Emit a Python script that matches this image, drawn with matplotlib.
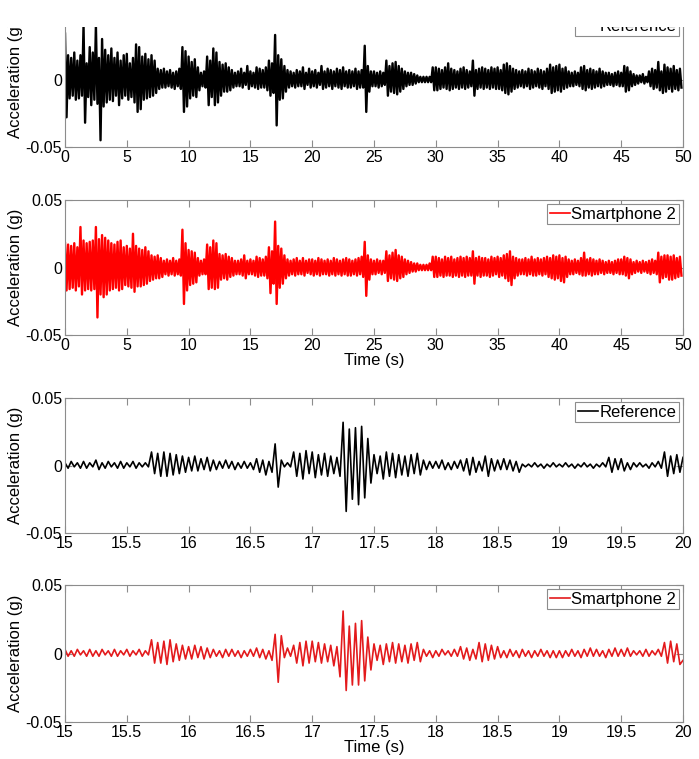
import numpy as np
import matplotlib.pyplot as plt
from matplotlib.patches import Rectangle

plt.rcParams['font.family'] = ['Liberation Sans', 'DejaVu Sans']
plt.rcParams['font.size'] = 12

# ------------------------------------------------------------
# Values, in milli-g.
# Full records (0-50 s): peak-up / peak-down per 0.25 s window.
# Zoomed records (15-20 s): successive extrema every 0.025 s.
# ------------------------------------------------------------

ref_up = [
    34, 18, 16, 20,  14, 18, 40, 12,  24, 20, 40, 16,  30, 22, 18, 23,
    16, 20, 14, 18,  19, 12, 16, 26,  24, 17, 19, 15,  18, 14, 8, 7,
    8, 6, 7, 5,      6, 8, 24, 21,    17, 13, 15, 9,   5, 6, 17, 14,
    23, 20, 13, 11,  12, 9, 7, 5,     6, 8, 5, 10,     6, 5, 9, 8,
    7, 9, 14, 12,    33, 18, 15, 10,  7, 6, 5, 7,      6, 9, 5, 8,
    6, 7, 5, 10,     6, 8, 7, 6,      8, 7, 9, 6,      7, 6, 8, 6,
    7, 25, 10, 6,    6, 5, 6, 5,      14, 10, 12, 13,  10, 8, 6, 5,
    5, 4, 3, 2,      2, 2, 2, 9,      9, 8, 7, 9,      12, 8, 7, 6,
    8, 9, 7, 6,      14, 7, 8, 9,     8, 7, 9, 8,      9, 7, 11, 12,
    10, 8, 7, 6,     7, 6, 8, 7,      6, 8, 7, 6,      8, 11, 9, 10,
    11, 8, 9, 6,     5, 6, 5, 9,      10, 7, 8, 7,     6, 8, 6, 5,
    5, 4, 5, 6,      5, 10, 9, 6,     4, 3, 3, 4,      2, 6, 8, 7,
    13, 6, 11, 9,    8, 10, 7, 8,
]
ref_down = [
    -28, -14, -12, -15,  -14, -12, -32, -13,  -19, -15, -18, -45,  -20, -17, -15, -16,
    -12, -19, -14, -12,  -15, -13, -17, -24,  -22, -15, -14, -13,  -12, -10, -7, -6,
    -6, -5, -6, -7,      -5, -7, -24, -20,    -14, -12, -13, -8,   -5, -6, -19, -13,
    -19, -17, -12, -9,   -9, -8, -6, -5,      -5, -6, -4, -7,      -5, -6, -7, -6,
    -6, -8, -12, -10,    -34, -15, -14, -9,   -6, -5, -6, -5,      -5, -7, -4, -6,
    -5, -6, -4, -7,      -6, -5, -7, -5,      -6, -7, -5, -6,      -6, -5, -7, -6,
    -6, -24, -9, -5,     -5, -6, -5, -4,      -12, -9, -10, -11,   -9, -7, -5, -4,
    -4, -3, -2, -2,      -2, -2, -2, -8,      -8, -7, -6, -7,      -8, -7, -6, -7,
    -6, -7, -6, -5,      -12, -7, -6, -7,     -6, -7, -6, -7,      -7, -8, -10, -11,
    -9, -7, -6, -5,      -6, -5, -7, -6,      -5, -6, -7, -5,      -7, -10, -9, -8,
    -9, -7, -6, -5,      -5, -4, -5, -7,      -8, -6, -7, -6,      -5, -6, -5, -4,
    -4, -5, -4, -5,      -5, -9, -8, -5,      -4, -3, -2, -3,      -2, -5, -7, -6,
    -8, -10, -9, -7,     -9, -7, -8, -6,
]

sp2_up = [
    18, 17, 16, 18,  15, 30, 20, 18,  19, 20, 30, 21,  24, 22, 20, 18,
    17, 19, 20, 15,  16, 14, 25, 16,  14, 13, 15, 12,  9, 8, 9, 7,
    5, 6, 5, 7,      5, 6, 28, 18,    13, 12, 11, 7,   5, 6, 17, 15,
    20, 18, 10, 9,   10, 8, 7, 5,     5, 6, 9, 5,      6, 5, 8, 7,
    6, 8, 15, 12,    34, 16, 14, 9,   6, 5, 6, 7,      5, 7, 5, 6,
    6, 5, 7, 6,      5, 6, 5, 7,      6, 5, 6, 7,      6, 5, 6, 7,
    8, 19, 9, 6,     5, 6, 5, 5,      12, 9, 11, 13,   9, 8, 6, 5,
    4, 3, 3, 2,      2, 2, 3, 8,      8, 7, 6, 8,      7, 8, 6, 7,
    8, 7, 8, 7,      12, 7, 8, 7,     7, 6, 8, 7,      8, 7, 9, 10,
    12, 8, 7, 6,     6, 7, 6, 8,      6, 7, 6, 7,      8, 7, 9, 8,
    9, 7, 8, 6,      5, 6, 5, 7,      11, 6, 7, 6,     5, 6, 5, 4,
    5, 4, 5, 6,      6, 8, 7, 6,      4, 5, 4, 5,      4, 5, 6, 5,
    11, 8, 9, 9,     8, 9, 7, 8,
]
sp2_down = [
    -17, -16, -15, -17,  -14, -20, -17, -16,  -17, -16, -37, -20,  -22, -20, -17, -16,
    -15, -17, -16, -13,  -14, -15, -18, -14,  -14, -13, -12, -10,  -9, -8, -8, -7,
    -5, -6, -5, -6,      -5, -6, -27, -17,    -13, -12, -11, -6,   -5, -5, -16, -15,
    -16, -15, -9, -8,    -9, -7, -6, -5,      -5, -6, -8, -5,      -5, -6, -7, -6,
    -6, -8, -19, -12,    -27, -15, -12, -8,   -6, -5, -6, -5,      -5, -6, -4, -5,
    -6, -5, -6, -5,      -5, -6, -5, -6,      -5, -6, -5, -6,      -6, -5, -6, -5,
    -7, -21, -9, -5,     -5, -4, -5, -4,      -10, -8, -9, -10,    -8, -7, -5, -4,
    -3, -3, -2, -2,      -2, -2, -2, -7,      -7, -6, -7, -6,      -6, -7, -6, -7,
    -6, -7, -6, -6,      -12, -6, -7, -6,     -6, -7, -6, -5,      -7, -6, -8, -10,
    -13, -8, -6, -5,     -5, -6, -5, -6,      -6, -5, -6, -5,      -7, -8, -9, -8,
    -10, -11, -7, -5,    -5, -4, -5, -6,      -6, -5, -6, -5,      -5, -4, -5, -4,
    -4, -5, -4, -5,      -5, -6, -8, -5,      -4, -3, -4, -3,      -4, -5, -4, -5,
    -11, -8, -7, -9,     -9, -8, -7, -6,
]

ref_zoom = [
    2, -2, 3, -1, 2, -2, 3, -2, 2, -1,
    4, -3, 2, -2, 3, -1, 2, -2, 3, -2,
    2, -1, 3, -2, 2, -1, 2, -1, 10, -6,
    9, -8, 10, -8, 9, -7, 8, -6, 7, -5,
    6, -4, 7, -4, 5, -3, 6, -4, 4, -3,
    3, -2, 4, -2, 3, -3, 2, -2, 3, -2,
    2, -3, 5, -5, 4, -7, 3, -5, 16, -16,
    4, -1, 2, -1, 10, -8, 9, -10, 11, -6,
    10, -9, 8, -7, 9, -8, 7, -6, 6, -8,
    32, -34, 27, -25, 28, -29, 29, -24, 20, -13,
    8, -6, 7, -10, 10, -8, 9, -9, 8, -7,
    7, -8, 8, -6, 9, -7, 4, -3, 3, -2,
    3, -2, 4, -3, 2, -3, 3, -2, 4, -4,
    5, -7, 6, -5, 3, -4, 7, -8, 5, -4,
    4, -3, 5, -3, 4, -4, 3, -5, 1, -1,
    1, -1, 2, -1, 1, -2, 1, -1, 2, -1,
    1, -1, 2, -1, 1, -2, 1, -1, 2, -1,
    1, -2, 1, -1, 2, -1, 6, -5, 5, -3,
    5, -4, 2, -3, 2, -1, 2, -1, 1, -2,
    2, -1, 3, -2, 10, -8, 7, -6, 8, -5,
    6,
]
sp2_zoom = [
    3, -2, 2, -2, 3, -1, 2, -2, 3, -2,
    2, -2, 3, -1, 2, -2, 3, -2, 2, -1,
    3, -2, 2, -1, 3, -2, 2, -1, 10, -7,
    8, -7, 9, -8, 10, -6, 7, -5, 6, -4,
    5, -4, 6, -3, 5, -4, 4, -3, 3, -2,
    2, -3, 3, -2, 3, -2, 2, -3, 2, -2,
    3, -2, 4, -3, 3, -4, 2, -5, 14, -21,
    13, -3, 4, -2, 6, -7, 8, -9, 9, -7,
    9, -6, 8, -7, 7, -6, 6, -9, 5, -17,
    31, -27, 20, -23, 22, -23, 24, -20, 12, -12,
    7, -5, 6, -8, 7, -6, 8, -7, 7, -6,
    6, -7, 7, -5, 8, -6, 3, -2, 2, -3,
    2, -2, 3, -1, 2, -2, 3, -2, 5, -4,
    4, -5, 3, -4, 8, -6, 7, -5, 6, -4,
    5, -3, 2, -3, 3, -2, 2, -3, 3, -2,
    2, -3, 2, -2, 3, -2, 2, -3, 2, -3,
    2, -3, 2, -2, 3, -2, 2, -3, 3, -2,
    4, -2, 3, -2, 2, -3, 3, -2, 4, -2,
    3, -2, 4, -2, 2, -1, 2, -2, 3, -2,
    2, -1, 3, -2, 8, -7, 9, -6, 7, -8,
    -5,
]

full_xticks = [0, 5, 10, 15, 20, 25, 30, 35, 40, 45, 50]
full_xlabels = ['0', '5', '10', '15', '20', '25', '30', '35', '40', '45', '50']
zoom_xticks = [15, 15.5, 16, 16.5, 17, 17.5, 18, 18.5, 19, 19.5, 20]
zoom_xlabels = ['15', '15.5', '16', '16.5', '17', '17.5', '18', '18.5', '19', '19.5', '20']
yticks = [-0.05, 0, 0.05]
ylabels = ['-0.05', '0', '0.05']


def envelope_trace(up, down, step=0.25):
    y = np.empty(2 * len(up))
    y[0::2] = np.array(up) / 1000.0
    y[1::2] = np.array(down) / 1000.0
    t = np.arange(len(y)) * step / 2
    return t, y


def zoom_trace(vals, t0=15.0, step=0.025):
    y = np.array(vals) / 1000.0
    t = t0 + np.arange(len(y)) * step
    return t, y


grey = '#8c8c8c'


def style(ax, xticks, xlabels, xlim, xlabel=None):
    ax.set_xlim(xlim)
    ax.set_ylim(-0.05, 0.05)
    ax.set_xticks(xticks)
    ax.set_xticklabels(xlabels)
    ax.set_yticks(yticks)
    ax.set_yticklabels(ylabels)
    ax.tick_params(direction='in', top=True, right=True, length=5, width=0.8,
                   color=grey, pad=2, labelsize=11.5)
    for s in ax.spines.values():
        s.set_color(grey)
        s.set_linewidth(0.8)
    ax.set_ylabel('Acceleration (g)', labelpad=2)
    if xlabel:
        ax.set_xlabel(xlabel, labelpad=0)


def add_legend(ax):
    leg = ax.legend(loc='upper right', fancybox=False, edgecolor=grey,
                    framealpha=1, borderaxespad=0.25, borderpad=0.15,
                    handlelength=1.2, handletextpad=0.1, fontsize=12)
    leg.get_frame().set_linewidth(0.8)
    for h in leg.get_lines():
        h.set_linewidth(1.2)


fig = plt.figure(figsize=(6.99, 7.59), dpi=100)
W, H = 699, 759
left, width = 65 / W, (683 - 65) / W

ax1 = fig.add_axes([left, 1 - 147 / H, width, 135 / H])
ax2 = fig.add_axes([left, 1 - 335 / H, width, 135 / H])
ax3 = fig.add_axes([left, 1 - 533 / H, width, 135 / H])
ax4 = fig.add_axes([left, 1 - 722 / H, width, 137 / H])

t, y = envelope_trace(ref_up, ref_down)
ax1.plot(t, y, color='black', linewidth=1.7, label='Reference')
style(ax1, full_xticks, full_xlabels, (0, 50))
add_legend(ax1)

t, y = envelope_trace(sp2_up, sp2_down)
ax2.plot(t, y, color='red', linewidth=1.7, label='Smartphone 2')
style(ax2, full_xticks, full_xlabels, (0, 50), 'Time (s)')
add_legend(ax2)

t, y = zoom_trace(ref_zoom)
ax3.plot(t, y, color='black', linewidth=1.2, label='Reference')
style(ax3, zoom_xticks, zoom_xlabels, (15, 20))
add_legend(ax3)

t, y = zoom_trace(sp2_zoom)
ax4.plot(t, y, color='#e31a1c', linewidth=1.2, label='Smartphone 2')
style(ax4, zoom_xticks, zoom_xlabels, (15, 20), 'Time (s)')
add_legend(ax4)

# the reference image is cut off above the first panel
fig.add_artist(Rectangle((0, 1 - 27 / H), 1, 27 / H, transform=fig.transFigure,
                         facecolor='white', edgecolor='none', zorder=10))

fig.savefig('out.png', dpi=100)
